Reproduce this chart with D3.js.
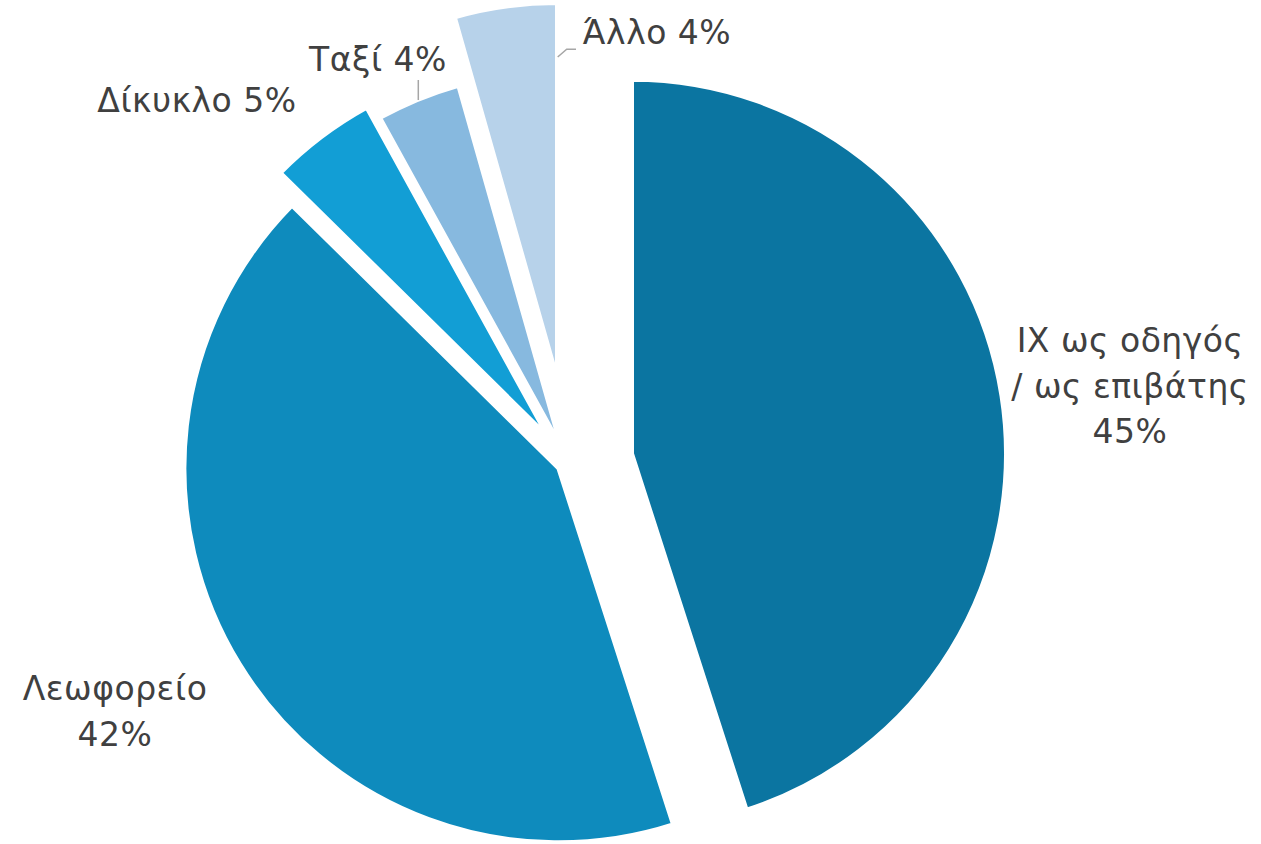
<!DOCTYPE html>
<html>
<head>
<meta charset="utf-8">
<script src="https://cdn.jsdelivr.net/npm/d3@7"></script>
<style>
  body { margin: 0; background: #fff; }
  .label { font-family: "DejaVu Sans", sans-serif; font-size: 33px; letter-spacing: 0.5px; fill: #404040; }
  .leader { fill: none; stroke: #a6a6a6; stroke-width: 1.5; }
</style>
</head>
<body>
<div id="chart"></div>
<script>
// modes of transport and their share (%)
var categories = ["ΙΧ ως οδηγός / ως επιβάτης", "Λεωφορείο", "Δίκυκλο", "Ταξί", "Άλλο"];
var shares = [45.0, 42.3, 4.6, 3.6, 4.4];
var colors = ["#0b75a1", "#0e8bbd", "#129ed5", "#87b9df", "#b7d2ea"];

var width = 1261, height = 844;
var cx = 592.5, cy = 447.5, radius = 374;
var lineHeight = 45.5;

// every slice is pulled out of the pie by its own offset (px)
var explode = [[39.5, 6.2], [-34.1, 20.8], [-45.5, -12.1], [-32, -2], [-35.5, -70.5]];

// where the data labels sit (centre x, first baseline)
var labelPos = [
  {x: 1130, y: 352, wrap: true, pctLine: true},
  {x: 115, y: 700, wrap: false, pctLine: true},
  {x: 197, y: 112, wrap: false, pctLine: false},
  {x: 378, y: 71, wrap: false, pctLine: false},
  {x: 657, y: 43.5, wrap: false, pctLine: false}
];
// leader lines for the small slices
var leaders = [null, null, null,
  [[418.3, 80], [418.3, 100]],
  [[557.7, 57], [566.7, 49.3], [576, 49.3]]];

var svg = d3.select("#chart").append("svg")
    .attr("width", width)
    .attr("height", height);

var pie = d3.pie().sort(null).value(function(d) { return d; });
var arcs = pie(shares);
var total = d3.sum(shares);

var arc = d3.arc().innerRadius(0).outerRadius(radius);

svg.selectAll(".slice")
  .data(arcs)
  .enter().append("path")
    .attr("class", "slice")
    .attr("d", arc)
    .attr("transform", function(d, i) {
      return "translate(" + (cx + explode[i][0]) + "," + (cy + explode[i][1]) + ")";
    })
    .attr("fill", function(d, i) { return colors[i]; })
    .attr("stroke", "#fff")
    .attr("stroke-width", 4);

// leader lines
var line = d3.line();
svg.selectAll(".leader")
  .data(leaders.filter(function(l) { return l; }))
  .enter().append("path")
    .attr("class", "leader")
    .attr("d", line);

// labels
arcs.forEach(function(d, i) {
  var pct = Math.round(shares[i] / total * 100) + "%";
  var pos = labelPos[i];
  var lines = pos.wrap ? categories[i].replace(" / ", "\n/ ").split("\n") : [categories[i]];
  if (pos.pctLine) lines.push(pct);
  else lines[lines.length - 1] += " " + pct;

  var t = svg.append("text")
      .attr("class", "label")
      .attr("text-anchor", "middle")
      .attr("x", pos.x)
      .attr("y", pos.y);
  t.selectAll("tspan")
    .data(lines)
    .enter().append("tspan")
      .attr("x", pos.x)
      .attr("y", function(l, j) { return pos.y + j * lineHeight; })
      .text(function(l) { return l; });
});
</script>
</body>
</html>
